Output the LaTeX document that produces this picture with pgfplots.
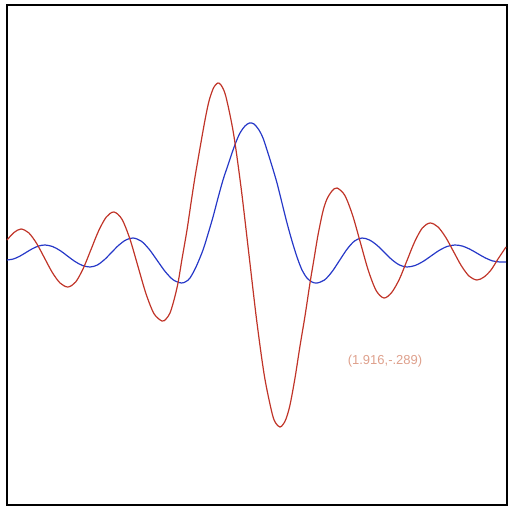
\documentclass[border=0pt]{standalone}
\usepackage{fontspec}
\setmainfont{Liberation Sans}
\usepackage{pgfplots}
\pgfplotsset{compat=1.18}
\definecolor{redc}{RGB}{192,52,40}
\definecolor{bluec}{RGB}{38,56,200}
\definecolor{labc}{RGB}{222,160,140}
\begin{document}
\begin{tikzpicture}
\begin{axis}[
  scale only axis, width=500pt, height=500pt,
  xmin=7, xmax=507, ymin=5, ymax=505, y dir=reverse,
  xtick=\empty, ytick=\empty,
  axis line style={black, line width=1.2pt},
  clip=false,
]
\path (axis cs:0,0) rectangle (axis cs:512,509);
% blue curve (pixel coordinates)
\addplot[bluec, line width=1.2pt, smooth, tension=0.5] coordinates {
(7,260) (13.33,259) (19.67,256.25) (26,252.5) (32.33,248.75) (38.67,246) (45,245)
(52.5,246.5) (60,250.5) (67.5,256) (75,261.5) (82.5,265.5) (90,267)
(97.17,265.1) (104.33,259.75) (111.5,252.5) (118.67,245.25) (125.83,240) (133,238)
(141.08,241) (149.17,249.25) (157.25,260.5) (165.33,271.75) (173.42,280) (181.5,283)
(186,281.5) (190,278) (196,267) (203,250) (208,234) (213,217) (218,198) (223,180)
(228,165) (232,153) (236,142) (240,133) (245,126) (249.5,123)
(254,124) (259,130) (263,138) (267,150) (272,166) (277,183) (282,203) (287,223)
(292,241) (297,257) (302,270) (307,278) (312,282) (317,283)
(324.5,280) (332,271.75) (339.5,260.5) (347,249.25) (354.5,241) (362,238)
(369.5,240) (377,245.25) (384.5,252.5) (392,259.75) (399.5,265) (407,267)
(415,265.5) (423,261.5) (431,256) (439,250.5) (447,246.5) (455,245)
(462.5,246.1) (470,249.25) (477.5,253.5) (485,257.75) (492.5,260.9) (500,262) (506,262)
};
% red curve
\addplot[redc, line width=1.2pt, smooth, tension=0.5] coordinates {
(7,240) (14,232.5) (21,229)
(28.83,232.9) (36.67,243.5) (44.5,258) (52.33,272.5) (60.17,283.1) (68,287)
(75.67,282) (83.33,268.25) (91,249.5) (98.67,230.75) (106.33,217) (114,212)
(122,219.3) (130,239.25) (138,266.5) (146,293.75) (154,313.7) (162,321)
(166,319) (170,313) (174,300) (178,283) (182,259) (187,230) (191,203) (195,177)
(200,148) (205,120) (209,101) (213,89) (215.5,85) (218,83) (221,85)
(225.75,96) (233.5,133.4) (241.25,189) (249,255) (256.75,321) (264.5,376.6) (272.25,414) (276,423.5) (280,427)
(283,424.5) (286,419) (290,405) (295,378) (300,346) (305,316) (310,283) (314,259) (318,235)
(323,211) (327,199) (332,191) (337,188)
(344.83,195.4) (352.67,215.5) (360.5,243) (368.33,270.5) (376.17,290.6) (384,298)
(391.67,292.5) (399.33,279.25) (407,260.5) (414.67,241.75) (422.33,228) (430,223)
(437.83,226.8) (445.67,237.25) (453.5,251.5) (461.33,265.75) (469.17,276.2) (477,280)
(484,277) (491,270) (498,259) (506,247)
};
\node[text=labc, font=\fontsize{13}{15}\selectfont] at (axis cs:385,361) {(1.916,-.289)};
\end{axis}
\end{tikzpicture}
\end{document}
